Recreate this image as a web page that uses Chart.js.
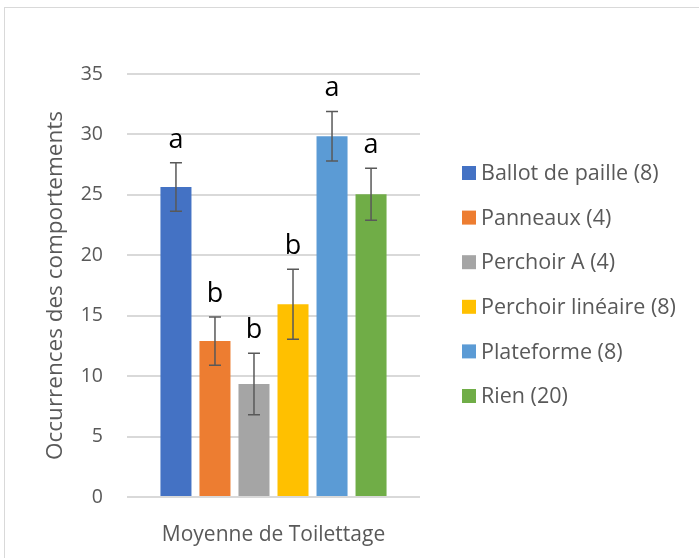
<!DOCTYPE html>
<html>
<head>
<meta charset="utf-8">
<script src="https://cdn.jsdelivr.net/npm/chart.js@4"></script>
<style>
    html, body { margin: 0; padding: 0; background: #fff; }
    .frame {
        position: absolute;
        left: 4px; top: 7px;
        width: 720px; height: 580px;
        border-top: 1px solid #d9d9d9;
        border-left: 1px solid #d9d9d9;
    }
    .chart-wrap { position: absolute; left: 0; top: 0; width: 699px; height: 558px; }
</style>
</head>
<body>
<div class="frame"></div>
<div class="chart-wrap"><canvas id="toilettageChart"></canvas></div>
<script>
const categories = ['Moyenne de Toilettage']
const seriesNames = ['Ballot de paille (8)', 'Panneaux (4)', 'Perchoir A (4)', 'Perchoir linéaire (8)', 'Plateforme (8)', 'Rien (20)']
const meanValues = [25.65, 12.9, 9.35, 15.95, 29.85, 25.05]
const errorValues = [2.0, 2.0, 2.55, 2.9, 2.05, 2.15]
const groupLetters = ['a', 'b', 'b', 'b', 'a', 'a']
const seriesColors = ['#4472c4', '#ed7d31', '#a5a5a5', '#ffc000', '#5b9bd5', '#70ad47']
const yTicks = [0, 5, 10, 15, 20, 25, 30, 35]

const FONT = '"Open Sans"'
const TEXT_GRAY = '#595959'

// error bars + significance letters drawn over the bars
const errorBarPlugin = {
    id: 'errorBars',
    afterDatasetsDraw(chart) {
        const ctx = chart.ctx
        const yScale = chart.scales.y
        ctx.save()
        chart.data.datasets.forEach((ds, i) => {
            const bar = chart.getDatasetMeta(i).data[0]
            const v = ds.data[0]
            const e = errorValues[i]
            const top = yScale.getPixelForValue(v + e)
            const bottom = yScale.getPixelForValue(v - e)
            ctx.strokeStyle = '#595959'
            ctx.lineWidth = 1.5
            ctx.beginPath()
            ctx.moveTo(bar.x, top)
            ctx.lineTo(bar.x, bottom)
            ctx.moveTo(bar.x - 6, top)
            ctx.lineTo(bar.x + 6, top)
            ctx.moveTo(bar.x - 6, bottom)
            ctx.lineTo(bar.x + 6, bottom)
            ctx.stroke()

            ctx.fillStyle = '#000'
            ctx.font = `27px ${FONT}`
            ctx.textAlign = 'center'
            ctx.textBaseline = 'alphabetic'
            ctx.fillText(groupLetters[i], bar.x, top - 15)
        })
        ctx.restore()
    }
}

// legend on the right, drawn by hand so long labels are not cut
const sideLegendPlugin = {
    id: 'sideLegend',
    afterDraw(chart) {
        const ctx = chart.ctx
        const area = chart.chartArea
        const rowGap = 44.6
        const x0 = area.right + 42
        const yStart = (area.top + area.bottom) / 2 - rowGap * (seriesNames.length - 1) / 2 - 1
        ctx.save()
        ctx.font = `21.5px ${FONT}`
        ctx.textBaseline = 'middle'
        ctx.textAlign = 'left'
        seriesNames.forEach((name, i) => {
            const y = yStart + i * rowGap
            ctx.fillStyle = seriesColors[i]
            ctx.fillRect(x0, y - 7, 14, 14)
            ctx.fillStyle = TEXT_GRAY
            ctx.fillText(name, x0 + 19, y + 1)
        })
        ctx.restore()
    }
}

const ctx = document.getElementById('toilettageChart').getContext('2d')
new Chart(ctx, {
    type: 'bar',
    data: {
        labels: categories,
        datasets: seriesNames.map((name, i) => ({
            label: name,
            data: [meanValues[i]],
            backgroundColor: seriesColors[i],
            borderWidth: 0,
            categoryPercentage: 0.799,
            barPercentage: 0.795,
        }))
    },
    options: {
        responsive: true,
        maintainAspectRatio: false,
        animation: false,
        layout: {
            padding: { top: 74, right: 279, bottom: 0, left: 40 }
        },
        plugins: {
            tooltip: { enabled: false },
            legend: { display: false }
        },
        scales: {
            x: {
                grid: { display: false },
                border: { display: false },
                ticks: { color: TEXT_GRAY, font: { family: FONT, size: 21 }, padding: 17 },
                afterFit: (scale) => { scale.height = 61 }
            },
            y: {
                min: 0,
                max: 35,
                afterBuildTicks: (scale) => { scale.ticks = yTicks.map(v => ({ value: v })) },
                grid: { color: '#d9d9d9', lineWidth: 2, drawTicks: false },
                border: { display: false },
                ticks: { color: TEXT_GRAY, font: { family: FONT, size: 19.5 }, padding: 24 },
                title: {
                    display: true,
                    text: 'Occurrences des comportements',
                    color: TEXT_GRAY,
                    font: { family: FONT, size: 22.5 },
                    padding: { top: 2, bottom: 0 }
                },
                afterFit: (scale) => { scale.width = 87 }
            }
        }
    },
    plugins: [errorBarPlugin, sideLegendPlugin]
})
</script>
</body>
</html>
